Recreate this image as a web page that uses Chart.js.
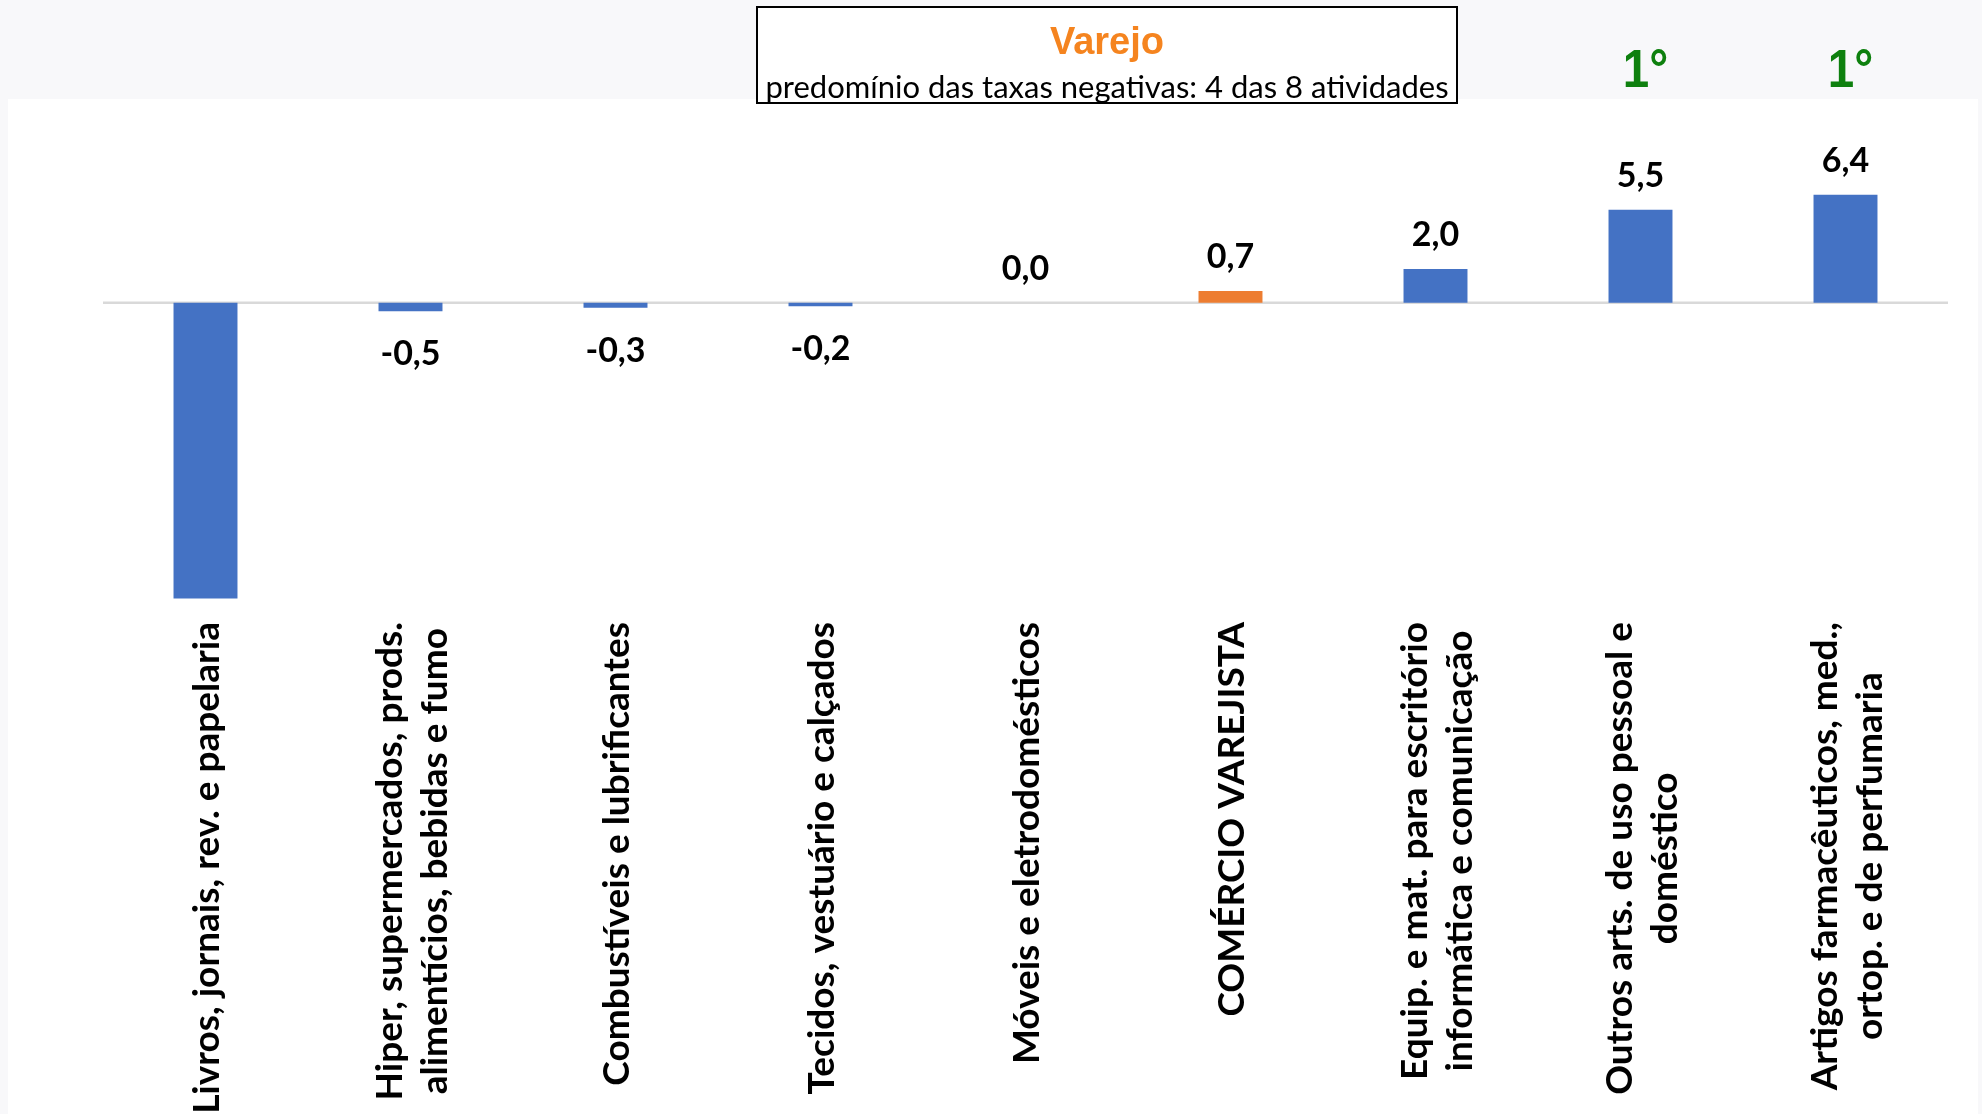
<!DOCTYPE html>
<html>
<head>
<meta charset="utf-8">
<script src="https://cdn.jsdelivr.net/npm/chart.js@4.4.1/dist/chart.umd.min.js"></script>
<style>
  html, body { margin: 0; padding: 0; background: #f8f8fa; overflow: hidden; }
  #panel { position: absolute; left: 8px; top: 99px; width: 1970px; height: 1015px; background: #ffffff; }
  #wrap { position: absolute; left: 0; top: 0; width: 1982px; height: 1114px; }
  #box { position: absolute; left: 756px; top: 6px; width: 698px; height: 94px; border: 2px solid #000; background: #fff; text-align: center; }
  #box .t1 { position: absolute; left: 0; right: 0; top: 14px; font: bold 38px "Liberation Sans", Arial, sans-serif; color: #f5841f; line-height: 38px; }
  #box .t2 { position: absolute; left: -10px; right: -10px; top: 62px; font: 31px Lato, "Open Sans", sans-serif; color: #000; line-height: 32px; white-space: nowrap; }
</style>
</head>
<body>
<div id="panel"></div>
<div id="wrap"><canvas id="c"></canvas></div>
<div id="box"><div class="t1">Varejo</div><div class="t2">predomínio das taxas negativas: 4 das 8 atividades</div></div>
<script>
// ---- data ----
const categories = [
  ["Livros, jornais, rev. e papelaria"],
  ["Hiper, supermercados, prods.", "alimentícios, bebidas e fumo"],
  ["Combustíveis e lubrificantes"],
  ["Tecidos, vestuário e calçados"],
  ["Móveis e eletrodomésticos"],
  ["COMÉRCIO VAREJISTA"],
  ["Equip. e mat. para escritório", "informática e comunicação"],
  ["Outros arts. de uso pessoal e", "doméstico"],
  ["Artigos farmacêuticos, med.,", "ortop. e de perfumaria"]
];
const values = [-17.5, -0.5, -0.3, -0.2, 0.0, 0.7, 2.0, 5.5, 6.4];
const highlightIndex = 5;                 // COMÉRCIO VAREJISTA (total)
const hiddenValueLabels = [0];            // label not shown in the original
const rankMarks = ["", "", "", "", "", "", "", "1°", "1°"];

const BLUE = "#4472c4", ORANGE = "#ed7d31", GREEN = "#0e800e";
const fmt = v => v.toFixed(1).replace(".", ",");

const overlay = {
  id: "overlay",
  beforeDatasetsDraw(chart) {
    const { ctx, chartArea, scales: { y } } = chart;
    const y0 = y.getPixelForValue(0);
    ctx.save();
    ctx.strokeStyle = "#d9d9d9";
    ctx.lineWidth = 2.5;
    ctx.beginPath();
    ctx.moveTo(chartArea.left, y0);
    ctx.lineTo(chartArea.right, y0);
    ctx.stroke();
    ctx.restore();
  },
  afterDatasetsDraw(chart) {
    const { ctx, chartArea, scales: { x, y } } = chart;
    const meta = chart.getDatasetMeta(0);
    ctx.save();
    // value labels
    ctx.fillStyle = "#000";
    ctx.font = "bold 34px Lato, 'Open Sans', sans-serif";
    ctx.textAlign = "center";
    ctx.textBaseline = "middle";
    values.forEach((v, i) => {
      if (hiddenValueLabels.includes(i)) return;
      const bar = meta.data[i];
      const px = bar.x;
      const py = v >= 0 ? y.getPixelForValue(v) - 34 : y.getPixelForValue(v) + 43;
      ctx.fillText(fmt(v), px, py);
    });
    // rank marks
    ctx.fillStyle = GREEN;
    ctx.font = "bold 54px 'Liberation Sans', Arial, sans-serif";
    rankMarks.forEach((m, i) => {
      if (!m) return;
      ctx.save();
      ctx.translate(x.getPixelForValue(i) + 5, 72);
      ctx.scale(0.88, 1);
      ctx.fillText(m, 0, 0);
      ctx.restore();
    });
    // category labels (rotated, lines centred, block anchored at top)
    ctx.fillStyle = "#000";
    ctx.font = "bold 37px Lato, 'Open Sans', sans-serif";
    const top = chartArea.bottom + 15;
    const lineGap = 45;
    categories.forEach((lines, i) => {
      const cx = x.getPixelForValue(i);
      const w = Math.max(...lines.map(l => ctx.measureText(l).width));
      const cy = top + w / 2;
      lines.forEach((l, k) => {
        const lx = cx + (k - (lines.length - 1) / 2) * lineGap + 2;
        ctx.save();
        ctx.translate(lx, cy);
        ctx.rotate(-Math.PI / 2);
        ctx.textAlign = "center";
        ctx.textBaseline = "middle";
        ctx.fillText(l, 0, 0);
        ctx.restore();
      });
    });
    ctx.restore();
  }
};

new Chart(document.getElementById("c"), {
  type: "bar",
  data: {
    labels: categories,
    datasets: [{
      data: values,
      backgroundColor: values.map((v, i) => i === highlightIndex ? ORANGE : BLUE),
      borderWidth: 0,
      barPercentage: 0.312,
      categoryPercentage: 1.0
    }]
  },
  options: {
    responsive: true,
    maintainAspectRatio: false,
    animation: false,
    layout: { padding: { left: 103, right: 34, top: 100, bottom: 507 } },
    plugins: { legend: { display: false }, tooltip: { enabled: false } },
    scales: {
      x: { display: false },
      y: { display: false, min: -18, max: 12 }
    }
  },
  plugins: [overlay]
});
</script>
</body>
</html>
